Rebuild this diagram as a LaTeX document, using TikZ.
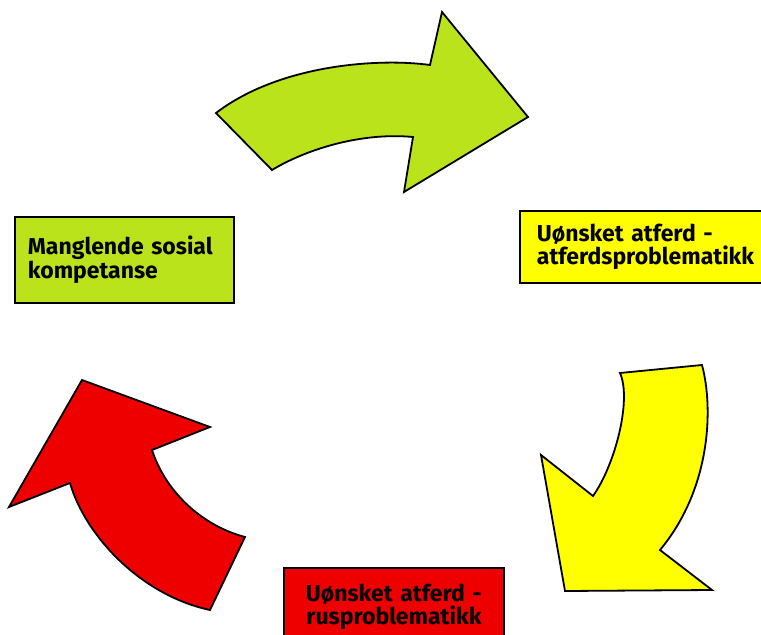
\documentclass[tikz,border=0pt]{standalone}
\usepackage{fontspec}
\setmainfont{Fira Sans}
\usepackage{xcolor}
\usepackage{tikz}
\usetikzlibrary{positioning}
\definecolor{cG}{HTML}{BBE31B}
\definecolor{cY}{HTML}{FFFF00}
\definecolor{cR}{HTML}{EE0000}
\tikzset{curvy/.style={draw=black,line width=1.8pt,line join=miter},
  box/.style={draw=black,line width=1.8pt,anchor=north west,align=left,inner sep=0pt,
    font=\bfseries\fontsize{23}{23.5}\selectfont}}

\begin{document}
\begin{tikzpicture}[x=1pt,y=-1pt]
  \useasboundingbox (0,0) rectangle (761,635);
  % arrows
  \fill[cG,curvy] (216,113) -- (272,170) .. controls (305,150) and (360,132) .. (413,137)
    -- (404,192) -- (528,117) -- (442,12) -- (430,65)
    .. controls (380,58) and (280,64) .. cycle;
  \fill[cY,curvy] (620,373) -- (702,365) .. controls (714,410) and (710,490) .. (660,550)
    -- (712,590) -- (565,591) -- (541,455) -- (593,496)
    .. controls (615,465) and (632,400) .. cycle;
  \fill[cR,curvy] (82,380) -- (210,427) -- (152,450) .. controls (165,490) and (200,525) .. (245,537)
    -- (210,610) .. controls (140,595) and (85,535) .. (70,483) -- (9,507) -- cycle;
  % boxes
  \node[box,fill=cG,minimum width=219pt,minimum height=86pt,text width=219pt] (social) at (14,216)
    {\hspace*{13pt}Manglende sosial\\\hspace*{13pt}kompetanse};
  \node[box,fill=cY,minimum width=260pt,minimum height=72pt,text width=260pt] (conduct) at (519,210)
    {\hspace*{17pt}Uønsket atferd -\\\hspace*{17pt}atferdsproblematikk};
  \node[box,fill=cR,minimum width=220pt,minimum height=78pt,text width=220pt,align=center] (drugs) at (283,567)
    {Uønsket atferd -\\rusproblematikk};
\end{tikzpicture}
\end{document}
